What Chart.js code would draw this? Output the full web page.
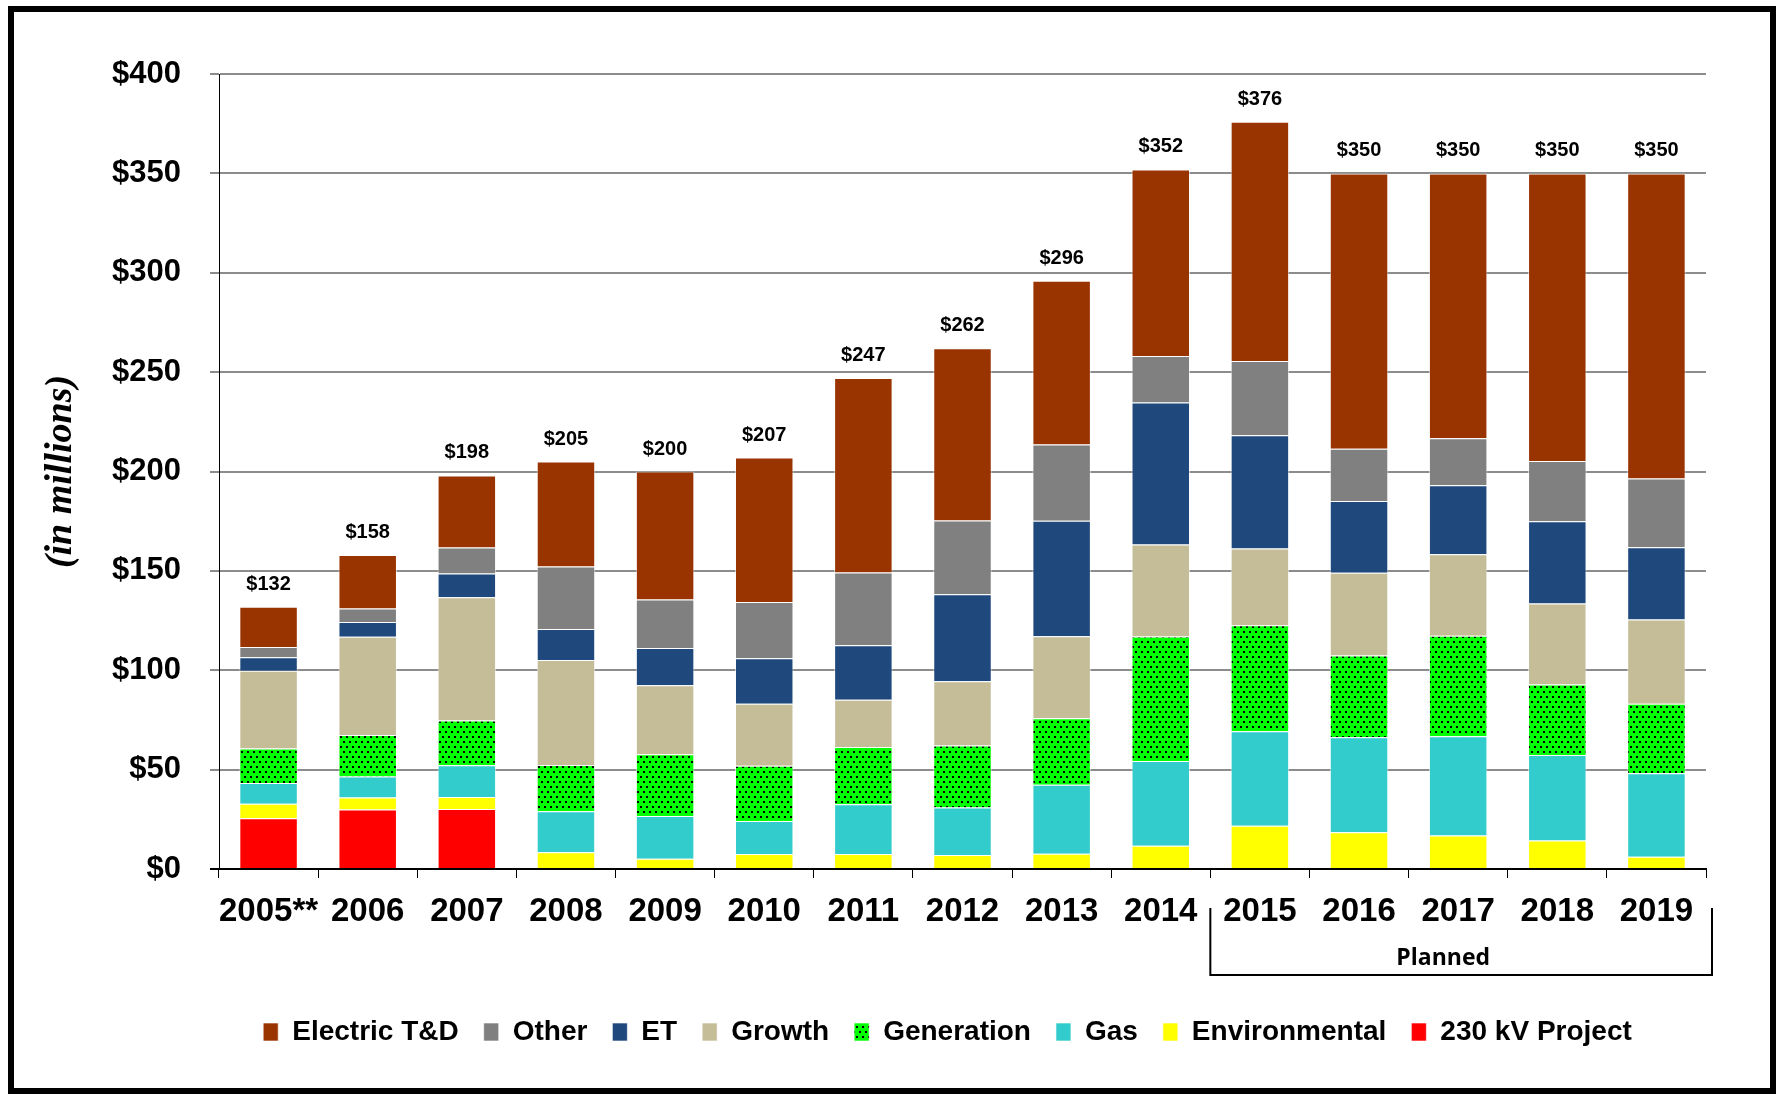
<!DOCTYPE html>
<html>
<head>
<meta charset="utf-8">
<title>Capital spending 2005-2019</title>
<script src="https://cdn.jsdelivr.net/npm/chart.js@4.4.1/dist/chart.umd.min.js"></script>
<style>
  html, body { margin: 0; padding: 0; background: #fff; }
  .wrap { position: relative; width: 1781px; height: 1095px; overflow: hidden; }
  .wrap canvas { position: absolute; left: 0; top: 0; }
  .frame { position: absolute; left: 8px; top: 6px; width: 1768px; height: 1088px; box-sizing: border-box; border: 6px solid #000; pointer-events: none; }
</style>
</head>
<body>
<div class="wrap">
  <canvas id="chart" width="1781" height="1095"></canvas>
  <div class="frame"></div>
</div>
<script>
// categories
const years = ['2005**', '2006', '2007', '2008', '2009', '2010', '2011', '2012', '2013', '2014', '2015', '2016', '2017', '2018', '2019'];
const plannedFrom = '2015';

// series values, $ millions (bottom of the stack first)
const kv230Project  = [25.5, 30.0, 30.2, 0, 0, 0, 0, 0, 0, 0, 0, 0, 0, 0, 0];
const environmental = [7.3, 6.0, 6.0, 8.4, 5.2, 7.6, 7.6, 7.0, 7.7, 11.7, 21.8, 18.5, 16.8, 14.3, 6.2];
const gas           = [10.5, 10.6, 16.0, 20.6, 21.5, 16.6, 25.0, 24.0, 34.7, 42.7, 47.5, 47.8, 50.0, 43.1, 42.0];
const generation    = [17.3, 20.8, 22.5, 23.3, 31.0, 27.8, 28.8, 31.2, 33.4, 62.6, 53.4, 41.1, 50.6, 35.4, 35.0];
const growth        = [39.2, 49.5, 62.0, 52.9, 34.7, 31.1, 23.8, 32.3, 41.3, 46.3, 38.5, 41.6, 41.0, 40.8, 42.3];
const et            = [6.7, 7.4, 12.0, 15.6, 18.8, 22.9, 27.4, 43.8, 58.1, 71.4, 57.1, 36.1, 34.7, 41.4, 36.4];
const other         = [5.2, 6.8, 13.0, 31.4, 24.4, 28.4, 36.6, 37.0, 38.4, 23.4, 37.3, 26.3, 23.6, 30.3, 34.6];
const electricTD    = [20.3, 26.9, 36.3, 52.8, 64.4, 72.6, 97.8, 86.7, 82.4, 93.9, 120.4, 138.6, 133.3, 144.7, 153.5];

// stack totals printed above the bars
const totals = [132, 158, 198, 205, 200, 207, 247, 262, 296, 352, 376, 350, 350, 350, 350];

// y axis ticks
const yMin = 0, yMax = 400, yStep = 50;

const SANS = '"Liberation Sans", Arial, Helvetica, sans-serif';
Chart.defaults.font.family = SANS;
Chart.defaults.color = '#000';

function dottedGreen() {
  const c = document.createElement('canvas');
  c.width = 6; c.height = 10;
  const g = c.getContext('2d');
  g.fillStyle = '#00ff00';
  g.fillRect(0, 0, 6, 10);
  g.fillStyle = '#000';
  g.fillRect(1, 1, 2, 2);
  g.fillRect(4, 6, 2, 2);
  return g.createPattern(c, 'repeat');
}

const edge = 'rgba(255,255,255,0.6)';
const ds = (label, data, color) => ({
  label, data, backgroundColor: color, borderColor: edge, borderWidth: 1, stack: 's'
});

const stackTotals = {
  id: 'stackTotals',
  afterDatasetsDraw(chart) {
    const { ctx, scales: { x, y } } = chart;
    ctx.save();
    ctx.font = 'bold 20px ' + SANS;
    ctx.fillStyle = '#000';
    ctx.textAlign = 'center';
    ctx.textBaseline = 'alphabetic';
    totals.forEach((t, i) => {
      ctx.fillText('$' + t, x.getPixelForValue(i), y.getPixelForValue(t) - 17);
    });
    ctx.restore();
  }
};

const plannedBracket = {
  id: 'plannedBracket',
  afterDraw(chart) {
    const { ctx, chartArea, scales: { x } } = chart;
    const i0 = years.indexOf(plannedFrom);
    const left = (x.getPixelForValue(i0 - 1) + x.getPixelForValue(i0)) / 2;
    const right = chartArea.right + 6;
    const top = chartArea.bottom + 39, bottom = chartArea.bottom + 106;
    ctx.save();
    ctx.strokeStyle = '#000';
    ctx.lineWidth = 2;
    ctx.beginPath();
    ctx.moveTo(left, top); ctx.lineTo(left, bottom); ctx.lineTo(right, bottom); ctx.lineTo(right, top);
    ctx.stroke();
    ctx.font = 'bold 23px "Open Sans", sans-serif';
    ctx.fillStyle = '#000';
    ctx.textAlign = 'center';
    ctx.textBaseline = 'middle';
    ctx.fillText('Planned', (left + right) / 2 - 18, chartArea.bottom + 89);
    ctx.restore();
  }
};

// centre the legend row under the plot instead of under the whole canvas
const legendShift = {
  id: 'legendShift',
  afterLayout(chart) {
    const lg = chart.legend;
    if (!lg) return;
    const a = chart.chartArea;
    const shift = (a.left + a.right) / 2 - 15 - (lg.left + lg.right) / 2;
    lg.left += shift; lg.right += shift;
  }
};

new Chart(document.getElementById('chart'), {
  type: 'bar',
  data: {
    labels: years,
    datasets: [
      ds('230 kV Project', kv230Project, '#ff0000'),
      ds('Environmental', environmental, '#ffff00'),
      ds('Gas', gas, '#33cccc'),
      ds('Generation', generation, dottedGreen()),
      ds('Growth', growth, '#c4bd97'),
      ds('ET', et, '#1f497d'),
      ds('Other', other, '#808080'),
      ds('Electric T&D', electricTD, '#993300'),
    ]
  },
  options: {
    responsive: false,
    animation: false,
    barPercentage: 0.59,
    categoryPercentage: 1,
    layout: { padding: { left: 20, right: 75, top: 74, bottom: 39 } },
    plugins: {
      legend: {
        position: 'bottom', reverse: true,
        labels: { boxWidth: 15, boxHeight: 18, padding: 25, color: '#000', font: { size: 28, weight: 'bold' } }
      },
      tooltip: { enabled: false }
    },
    scales: {
      x: {
        stacked: true,
        afterFit(s) { s.height = 124; },
        grid: { offset: true, drawOnChartArea: false, drawTicks: true, tickLength: 9, color: '#000', lineWidth: 1 },
        border: { color: '#000', width: 2 },
        ticks: { padding: 14, color: '#000', font: { size: 33, weight: 'bold' }, maxRotation: 0, autoSkip: false }
      },
      y: {
        stacked: true,
        min: yMin, max: yMax,
        afterFit(s) { s.width = 199; },
        grid: {
          color: c => (c.tick && c.tick.value === 0 ? '#000' : '#8c8c8c'),
          lineWidth: 2, tickLength: 9, drawTicks: true
        },
        border: { color: '#000', width: 1 },
        ticks: { stepSize: yStep, padding: 29, color: '#000', font: { size: 31, weight: 'bold' }, callback: v => '$' + v },
        title: {
          display: true, text: '(in millions)', color: '#000', padding: { top: 18, bottom: 0 },
          font: { family: '"Liberation Serif", "Times New Roman", serif', size: 38, style: 'italic', weight: 'bold' }
        }
      }
    }
  },
  plugins: [stackTotals, plannedBracket, legendShift]
});
</script>
</body>
</html>
